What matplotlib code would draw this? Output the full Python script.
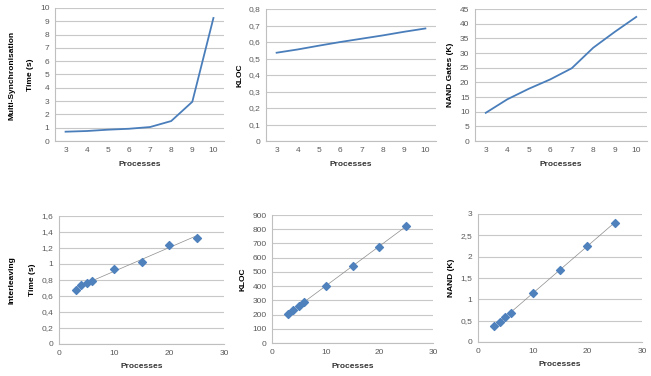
import numpy as np
import matplotlib
matplotlib.use('Agg')
import matplotlib.pyplot as plt

plt.rcParams['font.family'] = ['Liberation Sans', 'DejaVu Sans']

# top row: multi-synchronisation
procs_top = [3, 4, 5, 6, 7, 8, 9, 10]
ms_time = [0.7, 0.75, 0.85, 0.92, 1.05, 1.5, 2.95, 9.25]
ms_kloc = [0.535, 0.555, 0.578, 0.60, 0.62, 0.64, 0.662, 0.682]
ms_nand = [9.6, 14.2, 17.8, 21.0, 24.8, 31.8, 37.2, 42.3]

# bottom row: interleaving
procs_bot = [3, 4, 5, 6, 10, 15, 20, 25]
il_time = [0.675, 0.74, 0.76, 0.79, 0.935, 1.03, 1.24, 1.33]
il_kloc = [203, 234, 262, 290, 400, 540, 678, 823]
il_nand = [0.366, 0.475, 0.59, 0.69, 1.145, 1.69, 2.245, 2.8]

W, H = 651, 376
line_c = '#4A7EBB'
mark_c = '#4F81BD'
grid_c = '#C8C8C8'
tick_c = '#595959'

def box(l, r, t, b):
    return [l / W, (H - b) / H, (r - l) / W, (b - t) / H]

def style(ax, yticks, ylabels, ylabel):
    ax.set_yticks(yticks)
    ax.set_yticklabels(ylabels)
    ax.set_ylim(yticks[0], yticks[-1])
    ax.yaxis.grid(True, color=grid_c, linewidth=0.8)
    ax.set_axisbelow(True)
    for s in ['top', 'right']:
        ax.spines[s].set_visible(False)
    for s in ['left', 'bottom']:
        ax.spines[s].set_color('#BFBFBF')
        ax.spines[s].set_linewidth(0.8)
    ax.tick_params(length=0, labelsize=6, colors=tick_c, pad=4)
    ax.set_ylabel(ylabel, fontsize=6, fontweight='bold', labelpad=4)
    ax.set_xlabel('Processes', fontsize=6, fontweight='bold', labelpad=5, color='#333333')

fig = plt.figure(figsize=(W / 100, H / 100), dpi=100)

def fmt(v):
    return ('%g' % v).replace('.', ',')

tops = [
    (box(55, 224, 8, 141), ms_time, np.arange(0, 11, 1), 'Time (s)'),
    (box(266, 436, 9, 141), ms_kloc, np.round(np.arange(0, 0.81, 0.1), 1), 'KLOC'),
    (box(475, 647, 9, 141), ms_nand, np.arange(0, 46, 5), 'NAND Gates (K)'),
]
for rect, vals, yt, lab in tops:
    ax = fig.add_axes(rect)
    ax.plot(procs_top, vals, color=line_c, linewidth=1.3)
    ax.set_xlim(2.5, 10.5)
    ax.set_xticks(procs_top)
    style(ax, yt, [fmt(v) for v in yt], lab)

bots = [
    (box(59, 224, 216, 344), il_time, np.round(np.arange(0, 1.61, 0.2), 1), 'Time (s)'),
    (box(272, 433, 215, 343), il_kloc, np.arange(0, 901, 100), 'KLOC'),
    (box(478, 642, 214, 342), il_nand, np.arange(0, 3.01, 0.5), 'NAND (K)'),
]
for rect, vals, yt, lab in bots:
    ax = fig.add_axes(rect)
    # linear trendline
    k, c = np.polyfit(procs_bot, vals, 1)
    xs = np.array([procs_bot[0], procs_bot[-1]])
    ax.plot(xs, k * xs + c, color='#8C8C8C', linewidth=0.5, zorder=2)
    ax.scatter(procs_bot, vals, marker='D', s=16, color=mark_c, zorder=3)
    ax.set_xlim(0, 30)
    ax.set_xticks([0, 10, 20, 30])
    style(ax, yt, [fmt(v) for v in yt], lab)

fig.text(12 / W, 1 - 75 / H, 'Multi-Synchronisation', rotation=90, fontsize=6,
         fontweight='bold', ha='center', va='center')
fig.text(12 / W, 1 - 280 / H, 'Interleaving', rotation=90, fontsize=6,
         fontweight='bold', ha='center', va='center')

fig.savefig('out.png', dpi=100)
